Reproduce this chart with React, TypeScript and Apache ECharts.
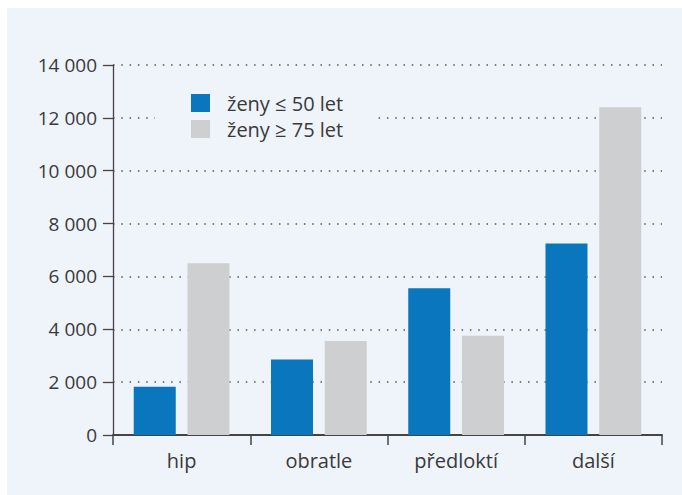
import React, { useEffect, useRef } from "react";
import * as echarts from "echarts";

const categories = ["hip", "obratle", "předloktí", "další"];
const seriesNames = ["ženy ≤ 50 let", "ženy ≥ 75 let"];
const women50 = [1830, 2860, 5550, 7250];
const women75 = [6500, 3560, 3760, 12400];
const yTicks = { min: 0, max: 14000, interval: 2000 };

const BG = "#eff3fa";
const BLUE = "#0a76bd";
const GRAY = "#cdcfd1";
const TEXT = "#3a3a3a";
const FONT = "'Open Sans', 'Noto Sans', sans-serif";

function fmt(v: number): string {
  return String(v).replace(/\B(?=(\d{3})+(?!\d))/g, " ");
}

export default function App() {
  const ref = useRef<HTMLDivElement>(null);
  useEffect(() => {
    if (!ref.current) return;
    const chart = echarts.init(ref.current, null, { renderer: "svg" });
    chart.setOption({
      animation: false,
      backgroundColor: "#ffffff",
      textStyle: { fontFamily: FONT },
      graphic: [
        {
          type: "rect",
          z: -10,
          silent: true,
          shape: { x: 7, y: 8, width: 675, height: 487 },
          style: { fill: BG },
        },
      ],
      grid: { left: 113, right: 20, top: 65, bottom: 60, containLabel: false },
      legend: {
        orient: "vertical",
        left: 155,
        top: 85,
        padding: [8, 33, 10, 36],
        backgroundColor: BG,
        itemWidth: 19,
        itemHeight: 18,
        itemGap: 6,
        icon: "rect",
        z: 5,
        textStyle: {
          fontFamily: FONT,
          fontSize: 20,
          color: TEXT,
          lineHeight: 20,
          padding: [0, 0, 0, 12],
        },
        data: seriesNames,
      },
      xAxis: {
        type: "category",
        data: categories,
        axisLine: { show: true, lineStyle: { color: "#444", width: 2 } },
        axisTick: { show: true, length: 10, lineStyle: { color: "#444", width: 1.5 } },
        axisLabel: { color: TEXT, fontSize: 20, fontFamily: FONT, margin: 15 },
        splitLine: { show: false },
      },
      yAxis: {
        type: "value",
        min: yTicks.min,
        max: yTicks.max,
        interval: yTicks.interval,
        axisLine: { show: true, lineStyle: { color: "#444", width: 1.3 } },
        axisTick: { show: true, length: 10, lineStyle: { color: "#444", width: 1.3 } },
        axisLabel: {
          color: TEXT,
          fontSize: 19,
          fontFamily: FONT,
          margin: 16,
          formatter: (v: number) => fmt(v),
        },
        splitLine: {
          show: true,
          lineStyle: { color: "#555", width: 1.5, type: [1.5, 6.8] },
        },
      },
      series: [
        {
          name: seriesNames[0],
          type: "bar",
          data: women50,
          barWidth: 42,
          barGap: "28%",
          itemStyle: { color: BLUE },
          z: 3,
        },
        {
          name: seriesNames[1],
          type: "bar",
          data: women75,
          barWidth: 42,
          itemStyle: { color: GRAY },
          z: 3,
        },
      ],
    });
    return () => chart.dispose();
  }, []);
  return (
    <div
      ref={ref}
      style={{ position: "fixed", left: 0, top: 0, width: 682, height: 495 }}
    />
  );
}
